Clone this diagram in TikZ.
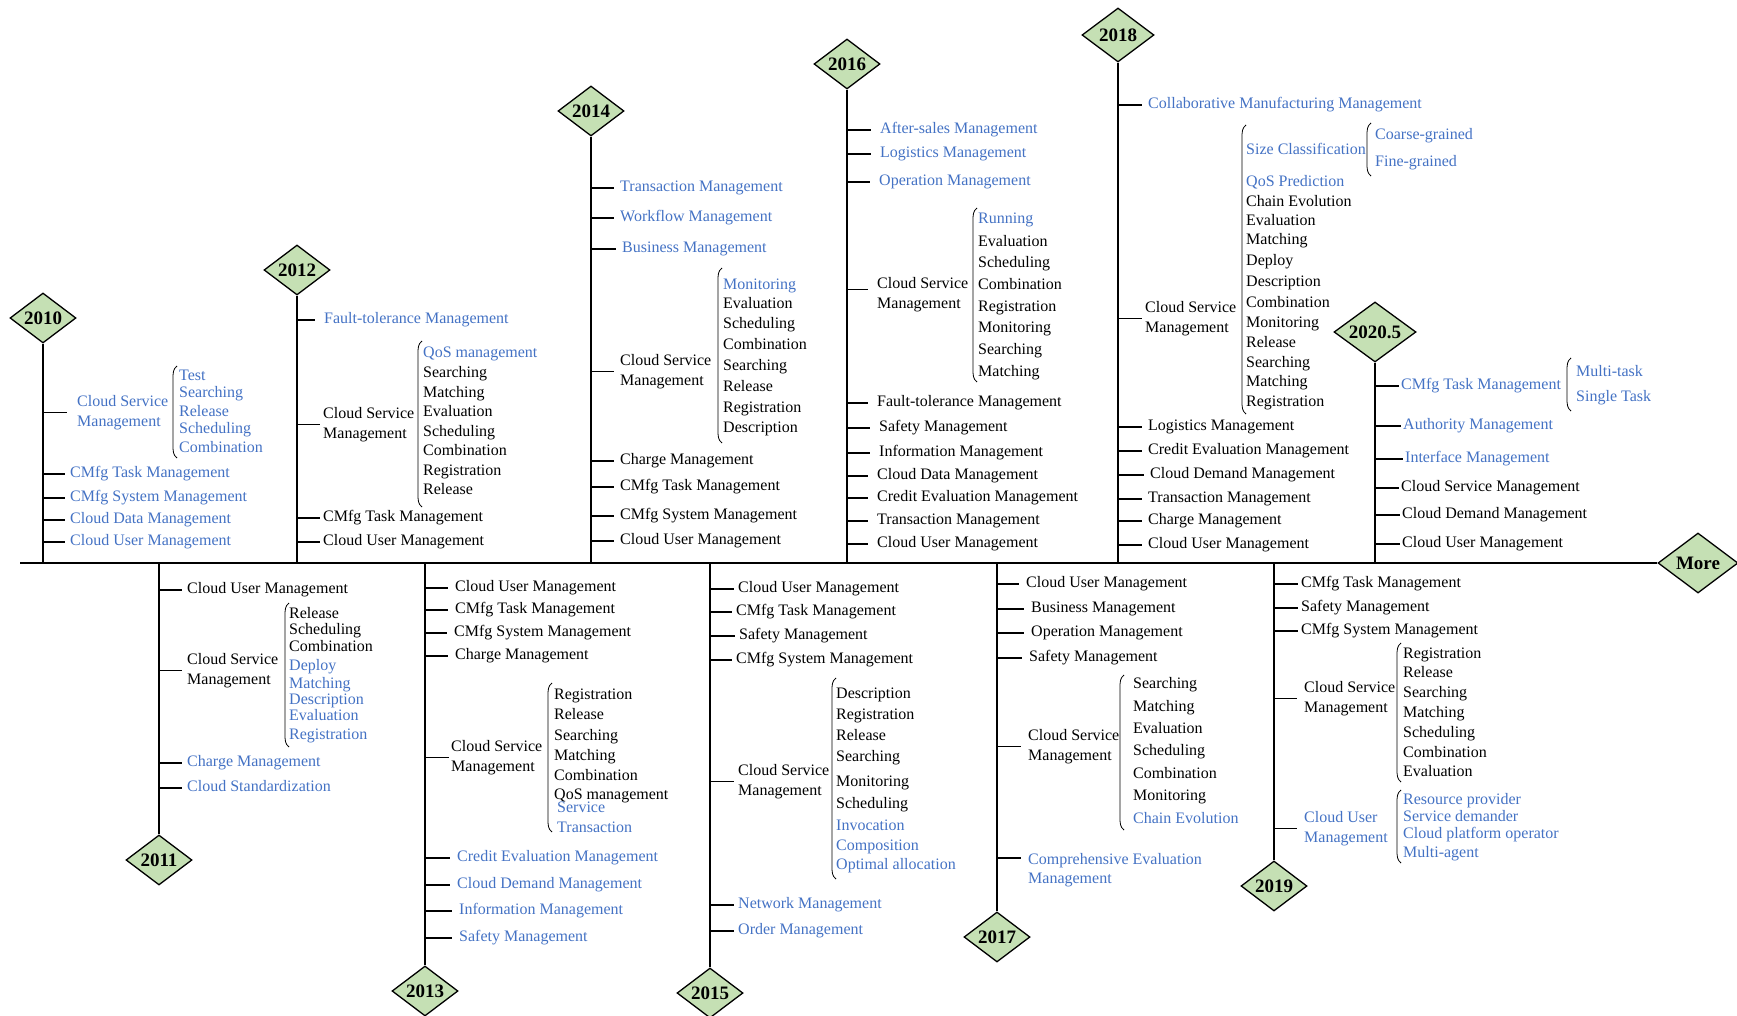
\documentclass[tikz,border=0pt]{standalone}
\usepackage{fontspec}
\setmainfont{Liberation Serif}
\usetikzlibrary{shapes.geometric}
\definecolor{tblue}{RGB}{68,114,196}
\definecolor{dgreen}{RGB}{197,224,180}
\newcommand\lblfont{\fontsize{16}{19.5}\selectfont}
\newcommand\yrfont{\fontsize{19}{20}\selectfont\bfseries}
% left round bracket: x, top y, bottom y
\newcommand\parenbr[3]{\draw[brkline] (#1+4,#2) .. controls (#1,#2+3) and (#1,#2+7) .. (#1,#2+13) -- (#1,#3-13) .. controls (#1,#3-7) and (#1,#3-3) .. (#1+4,#3);}
\begin{document}
\begin{tikzpicture}[x=1pt,y=-1pt,
  lbl/.style={inner sep=0pt, anchor=west, font=\lblfont, text height=11pt, text depth=4pt, yshift=-1pt},
  bl/.style={lbl, text=tblue},
  bk/.style={lbl, text=black},
  ml/.style={inner sep=0pt, anchor=west, font=\lblfont, align=left, yshift=-1.5pt},
  yr/.style={diamond, draw, line width=1.3pt, fill=dgreen, font=\yrfont, inner sep=0pt,
             shape aspect=1.4, minimum width=66pt, minimum height=50pt},
  stemline/.style={line width=1.1pt},
  tickline/.style={line width=1.1pt, shorten >=5pt},
  brkline/.style={line width=0.8pt},
  axisline/.style={line width=1.8pt}]
\useasboundingbox (0,0) rectangle (1737,1016);

% ---------- time axis ----------
\coordinate (axL) at (20,563);
\node[yr, minimum width=80pt, minimum height=60pt] (more) at (1698,563) {More};
\draw[axisline] (axL) -- (more.west);

% ---------- year markers ----------
\node[yr] (d10) at (43,318) {2010};
\node[yr] (d12) at (297,270) {2012};
\node[yr] (d14) at (591,111) {2014};
\node[yr] (d16) at (847,64) {2016};
\node[yr, minimum width=72pt, minimum height=54pt] (d18) at (1118,35) {2018};
\node[yr, minimum width=82pt, minimum height=60pt] (d20) at (1375,332) {2020.5};
\node[yr] (d11) at (159,860) {2011};
\node[yr] (d13) at (425,991) {2013};
\node[yr] (d15) at (710,993) {2015};
\node[yr] (d17) at (997,937) {2017};
\node[yr] (d19) at (1274,886) {2019};

\foreach \d in {d10,d12,d14,d16,d18,d20}
  \draw[stemline] (\d.south) -- (\d |- axL);
\foreach \d in {d11,d13,d15,d17,d19}
  \draw[stemline] (\d.north) -- (\d |- axL);

% ---------- 2010 ----------
\node[ml, text=tblue] (a1) at (77,411) {Cloud Service\\Management};
\node[bl] (a2) at (70,473) {CMfg Task Management};
\node[bl] (a3) at (70,497) {CMfg System Management};
\node[bl] (a4) at (70,519) {Cloud Data Management};
\node[bl] (a5) at (70,541) {Cloud User Management};
\draw[tickline, shorten >=10pt] (d10 |- a1.west) -- (a1.west);
\foreach \n in {a2,a3,a4,a5} \draw[tickline] (d10 |- \n.west) -- (\n.west);
\parenbr{173}{366}{458}
\foreach \y/\t in {376/Test, 393/Searching, 412/Release, 429/Scheduling, 448/Combination}
  \node[bl] (i10-\y) at (179,\y) {\t};

% ---------- 2012 ----------
\node[bl] (b1) at (324,319) {Fault-tolerance Management};
\node[ml] (b2) at (323,423) {Cloud Service\\Management};
\node[bk] (b3) at (323,517) {CMfg Task Management};
\node[bk] (b4) at (323,541) {Cloud User Management};
\draw[tickline, shorten >=9pt] (d12 |- b1.west) -- (b1.west);
\foreach \n in {b2,b3,b4} \draw[tickline, shorten >=3pt] (d12 |- \n.west) -- (\n.west);
\parenbr{418}{341}{507}
\foreach \y/\c/\t in {353/tblue/QoS management, 373/black/Searching, 393/black/Matching,
    412/black/Evaluation, 432/black/Scheduling, 451/black/Combination,
    471/black/Registration, 490/black/Release}
  \node[lbl, text=\c] (i12-\y) at (423,\y) {\t};

% ---------- 2014 ----------
\node[bl] (c1) at (620,187) {Transaction Management};
\node[bl] (c2) at (620,217) {Workflow Management};
\node[bl] (c3) at (622,248) {Business Management};
\node[ml] (c4) at (620,370) {Cloud Service\\Management};
\node[bk] (c5) at (620,460) {Charge Management};
\node[bk] (c6) at (620,486) {CMfg Task Management};
\node[bk] (c7) at (620,515) {CMfg System Management};
\node[bk] (c8) at (620,540) {Cloud User Management};
\foreach \n in {c1,c2,c3,c4,c5,c6,c7,c8} \draw[tickline, shorten >=6pt] (d14 |- \n.west) -- (\n.west);
\parenbr{718}{268}{443}
\foreach \y/\c/\t in {285/tblue/Monitoring, 304/black/Evaluation, 324/black/Scheduling,
    345/black/Combination, 366/black/Searching, 387/black/Release,
    408/black/Registration, 428/black/Description}
  \node[lbl, text=\c] (i14-\y) at (723,\y) {\t};

% ---------- 2016 ----------
\node[bl] (e1) at (880,129) {After-sales Management};
\node[bl] (e2) at (880,153) {Logistics Management};
\node[bl] (e3) at (879,181) {Operation Management};
\node[ml] (e4) at (877,293) {Cloud Service\\Management};
\node[bk] (e5) at (877,402) {Fault-tolerance Management};
\node[bk] (e6) at (879,427) {Safety Management};
\node[bk] (e7) at (879,452) {Information Management};
\node[bk] (e8) at (877,475) {Cloud Data Management};
\node[bk] (e9) at (877,497) {Credit Evaluation Management};
\node[bk] (e10) at (877,520) {Transaction Management};
\node[bk] (e11) at (877,543) {Cloud User Management};
\foreach \n in {e1,e2,e3,e5,e6,e7,e8,e9,e10,e11} \draw[tickline, shorten >=9pt] (d16 |- \n.west) -- (\n.west);
\coordinate (e4t) at ([yshift=5pt]e4.west);
\draw[tickline, shorten >=9pt] (d16 |- e4t) -- (e4t);
\parenbr{973}{208}{382}
\foreach \y/\c/\t in {219/tblue/Running, 242/black/Evaluation, 263/black/Scheduling,
    285/black/Combination, 307/black/Registration, 328/black/Monitoring,
    350/black/Searching, 372/black/Matching}
  \node[lbl, text=\c] (i16-\y) at (978,\y) {\t};

% ---------- 2018 ----------
\node[bl] (f1) at (1148,104) {Collaborative Manufacturing Management};
\node[ml] (f2) at (1145,317) {Cloud Service\\Management};
\node[bk] (f3) at (1148,426) {Logistics Management};
\node[bk] (f4) at (1148,450) {Credit Evaluation Management};
\node[bk] (f5) at (1150,474) {Cloud Demand Management};
\node[bk] (f6) at (1148,498) {Transaction Management};
\node[bk] (f7) at (1148,520) {Charge Management};
\node[bk] (f8) at (1148,544) {Cloud User Management};
\foreach \n in {f1,f3,f4,f5,f6,f7,f8} \draw[tickline, shorten >=6pt] (d18 |- \n.west) -- (\n.west);
\draw[tickline, shorten >=3pt] (d18 |- f2.west) -- (f2.west);
\parenbr{1242}{125}{414}
\foreach \y/\c/\t in {150/tblue/Size Classification, 182/tblue/QoS Prediction,
    202/black/Chain Evolution, 221/black/Evaluation, 240/black/Matching,
    261/black/Deploy, 282/black/Description, 303/black/Combination,
    323/black/Monitoring, 343/black/Release, 363/black/Searching,
    382/black/Matching, 402/black/Registration}
  \node[lbl, text=\c] (i18-\y) at (1246,\y) {\t};
\parenbr{1367}{123}{176}
\node[bl] (f9) at (1375,135) {Coarse-grained};
\node[bl] (f10) at (1375,162) {Fine-grained};

% ---------- 2020.5 ----------
\node[bl] (g1) at (1401,385) {CMfg Task Management};
\node[bl] (g2) at (1403,425) {Authority Management};
\node[bl] (g3) at (1405,458) {Interface Management};
\node[bk] (g4) at (1401,487) {Cloud Service Management};
\node[bk] (g5) at (1402,514) {Cloud Demand Management};
\node[bk] (g6) at (1402,543) {Cloud User Management};
\foreach \n in {g1,g2,g3,g4,g5,g6} \draw[tickline, shorten >=2pt] (d20 |- \n.west) -- (\n.west);
\parenbr{1567}{358}{411}
\node[bl] (g7) at (1576,372) {Multi-task};
\node[bl] (g8) at (1576,397) {Single Task};

% ---------- 2011 ----------
\node[bk] (h1) at (187,589) {Cloud User Management};
\node[ml] (h2) at (187,669) {Cloud Service\\Management};
\node[bl] (h3) at (187,762) {Charge Management};
\node[bl] (h4) at (187,787) {Cloud Standardization};
\foreach \n in {h1,h2,h3,h4} \draw[tickline] (d11 |- \n.west) -- (\n.west);
\parenbr{285}{603}{747}
\foreach \y/\c/\t in {614/black/Release, 630/black/Scheduling, 647/black/Combination,
    666/tblue/Deploy, 684/tblue/Matching, 700/tblue/Description,
    716/tblue/Evaluation, 735/tblue/Registration}
  \node[lbl, text=\c] (i11-\y) at (289,\y) {\t};

% ---------- 2013 ----------
\node[bk] (k1) at (455,587) {Cloud User Management};
\node[bk] (k2) at (455,609) {CMfg Task Management};
\node[bk] (k3) at (454,632) {CMfg System Management};
\node[bk] (k4) at (455,655) {Charge Management};
\node[ml] (k5) at (451,756) {Cloud Service\\Management};
\node[bl] (k6) at (457,857) {Credit Evaluation Management};
\node[bl] (k7) at (457,884) {Cloud Demand Management};
\node[bl] (k8) at (459,910) {Information Management};
\node[bl] (k9) at (459,937) {Safety Management};
\foreach \n in {k1,k2,k3,k4,k6,k7,k8,k9} \draw[tickline, shorten >=7pt] (d13 |- \n.west) -- (\n.west);
\draw[tickline, shorten >=2pt] (d13 |- k5.west) -- (k5.west);
\parenbr{548}{683}{832}
\foreach \y/\t in {695/Registration, 715/Release, 736/Searching, 756/Matching,
    776/Combination, 795/QoS management}
  \node[bk] (i13-\y) at (554,\y) {\t};
\node[bl] (i13-808) at (557,808) {Service};
\node[bl] (i13-828) at (557,828) {Transaction};

% ---------- 2015 ----------
\node[bk] (m1) at (738,588) {Cloud User Management};
\node[bk] (m2) at (736,611) {CMfg Task Management};
\node[bk] (m3) at (739,635) {Safety Management};
\node[bk] (m4) at (736,659) {CMfg System Management};
\node[ml] (m5) at (738,780) {Cloud Service\\Management};
\node[bl] (m6) at (738,904) {Network Management};
\node[bl] (m7) at (738,930) {Order Management};
\foreach \n in {m1,m2,m3,m4,m5,m6,m7} \draw[tickline, shorten >=4pt] (d15 |- \n.west) -- (\n.west);
\parenbr{832}{678}{879}
\foreach \y/\c/\t in {694/black/Description, 715/black/Registration, 736/black/Release,
    757/black/Searching, 782/black/Monitoring, 804/black/Scheduling,
    826/tblue/Invocation, 846/tblue/Composition, 865/tblue/Optimal allocation}
  \node[lbl, text=\c] (i15-\y) at (836,\y) {\t};

% ---------- 2017 ----------
\node[bk] (p1) at (1026,583) {Cloud User Management};
\node[bk] (p2) at (1031,608) {Business Management};
\node[bk] (p3) at (1031,632) {Operation Management};
\node[bk] (p4) at (1029,657) {Safety Management};
\node[ml] (p5) at (1028,745) {Cloud Service\\Management};
\node[ml, text=tblue] (p6) at (1028,868.5) {Comprehensive Evaluation\\Management};
\foreach \n in {p1,p2,p3,p4,p5} \draw[tickline, shorten >=7pt] (d17 |- \n.west) -- (\n.west);
\coordinate (p6t) at (1021,858);
\draw[tickline, shorten >=0pt] (d17 |- p6t) -- (p6t);
\parenbr{1120}{675}{830}
\foreach \y/\c/\t in {684/black/Searching, 707/black/Matching, 729/black/Evaluation,
    751/black/Scheduling, 774/black/Combination, 796/black/Monitoring,
    819/tblue/Chain Evolution}
  \node[lbl, text=\c] (i17-\y) at (1133,\y) {\t};

% ---------- 2019 ----------
\node[bk] (q1) at (1301,583) {CMfg Task Management};
\node[bk] (q2) at (1301,607) {Safety Management};
\node[bk] (q3) at (1301,630) {CMfg System Management};
\node[ml] (q4) at (1304,697) {Cloud Service\\Management};
\node[ml, text=tblue] (q5) at (1304,827) {Cloud User\\Management};
\foreach \n in {q1,q2,q3} \draw[tickline, shorten >=3pt] (d19 |- \n.west) -- (\n.west);
\foreach \n in {q4,q5} \draw[tickline, shorten >=7pt] (d19 |- \n.west) -- (\n.west);
\parenbr{1397}{643}{782}
\foreach \y/\t in {654/Registration, 673/Release, 693/Searching, 713/Matching,
    733/Scheduling, 753/Combination, 772/Evaluation}
  \node[bk] (i19-\y) at (1403,\y) {\t};
\parenbr{1397}{790}{863}
\foreach \y/\t in {800/Resource provider, 817/Service demander,
    834/Cloud platform operator, 853/Multi-agent}
  \node[bl] (j19-\y) at (1403,\y) {\t};
\end{tikzpicture}
\end{document}
